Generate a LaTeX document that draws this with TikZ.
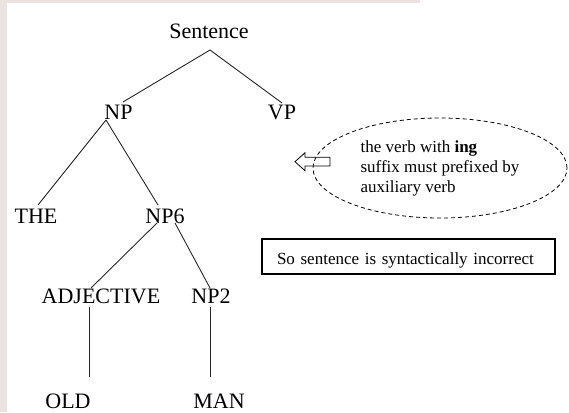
\documentclass[tikz,border=0pt]{standalone}
\usepackage{fontspec}
\setmainfont{Liberation Serif}
\usetikzlibrary{shapes.geometric}
\definecolor{bgstrip}{RGB}{236,226,223}
\begin{document}
\begin{tikzpicture}[x=1pt,y=-1pt,
  lbl/.style={font=\fontsize{22}{26}\selectfont, inner sep=0pt, anchor=base},
  edge/.style={line width=0.9pt, draw=black!85},
  notetext/.style={font=\fontsize{17}{20}\selectfont}]
\useasboundingbox (0,0) rectangle (569,412);
\fill[bgstrip] (0,0) rectangle (7,412);
\fill[bgstrip] (0,0) rectangle (420,3);
% tree labels
\node[lbl] (sent) at (209,39) {Sentence};
\node[lbl] (np) at (118.5,119) {NP};
\node[lbl] (vp) at (282,119) {VP};
\node[lbl] (the) at (36,223) {THE};
\node[lbl] (np6) at (165,223) {NP6};
\node[lbl] (adj) at (101,303) {ADJECTIVE};
\node[lbl] (np2) at (211,303) {NP2};
\node[lbl] (old) at (68,408) {OLD};
\node[lbl] (man) at (219,408) {MAN};
% tree edges
\draw[edge] ([shift={(1,11)}]sent.base) -- ([shift={(4.5,-17)}]np.base);
\draw[edge] ([shift={(1,11)}]sent.base) -- ([shift={(0,-16)}]vp.base);
\draw[edge] ([shift={(-12.5,1)}]np.base) -- ([shift={(2,-18)}]the.base);
\draw[edge] ([shift={(-12.5,1)}]np.base) -- ([shift={(-7,-18)}]np6.base);
\draw[edge] ([shift={(-8,0)}]np6.base) -- ([shift={(-10,-15)}]adj.base);
\draw[edge] ([shift={(10,0)}]np6.base) -- ([shift={(-1,-15)}]np2.base);
\draw[edge] ([shift={(-12,4)}]adj.base) -- ([shift={(21,-31)}]old.base);
\draw[edge] ([shift={(-1,4)}]np2.base) -- ([shift={(-9,-31)}]man.base);
% note ellipse
\node[ellipse, draw, dash pattern=on 4pt off 3pt, line width=0.8pt,
      minimum width=254pt, minimum height=100pt, inner sep=0pt,
      align=left, notetext] (note) at (440,168)
      {the verb with \textbf{ing}\\suffix must prefixed by\\auxiliary verb};
% hollow arrow
\draw[line width=0.8pt] (295,161.7) -- (305,152.7) -- (305,157.3) -- (330,157.3)
  -- (330,166) -- (305,166) -- (305,170.7) -- cycle;
% conclusion box
\node[draw, line width=1.3pt, minimum width=293pt, minimum height=35pt,
      text width=263pt, inner xsep=15pt, inner ysep=0pt, align=left,
      text height=15pt, text depth=0pt, notetext] (concl) at (408.5,256.5)
      {So sentence is syntactically incorrect};
\end{tikzpicture}
\end{document}
